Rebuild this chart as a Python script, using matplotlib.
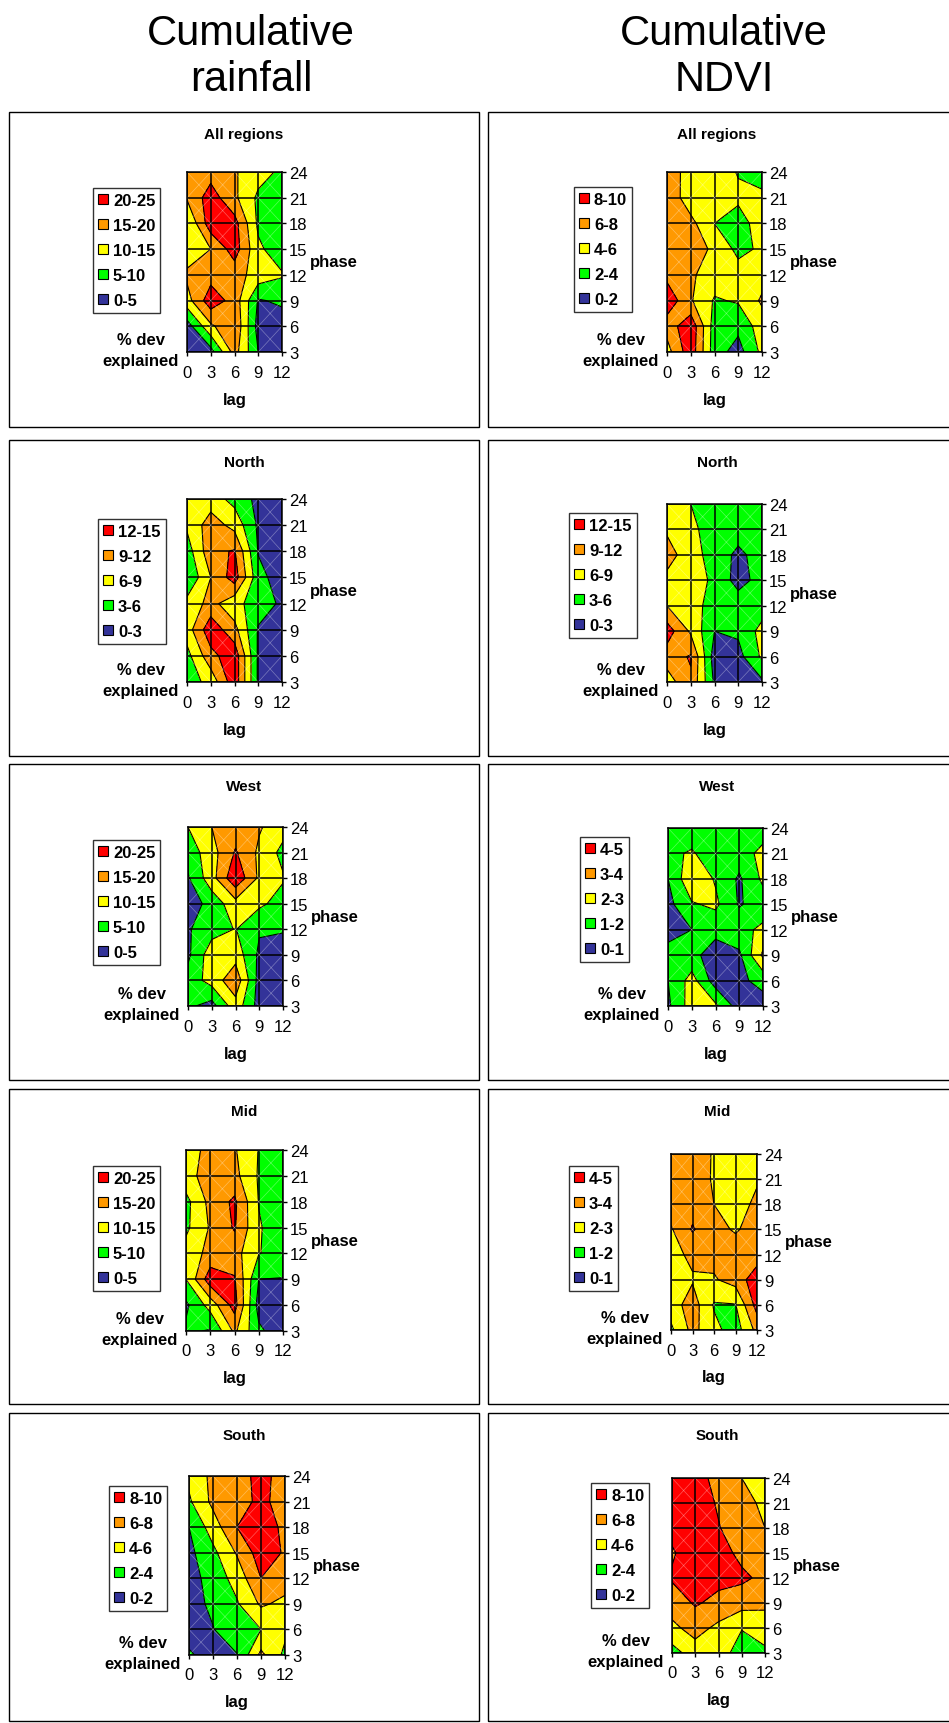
import numpy as np
import matplotlib.pyplot as plt
from matplotlib.patches import Patch, Rectangle

plt.rcParams['font.family'] = ['Liberation Sans', 'DejaVu Sans']

W, H = 949, 1724

lag = [0, 3, 6, 9, 12]
phase = [3, 6, 9, 12, 15, 18, 21, 24]
colours = ['#333399', '#00FF00', '#FFFF00', '#FF9900', '#FF0000']

# % deviance explained, rows = phase 3..24, columns = lag 0..12
rain_all = [[1, 3, 17, 5, 1],
            [2.5, 14, 19.5, 3, 2],
            [13, 23, 18, 4.5, 6],
            [16, 18, 17, 13, 10.5],
            [12, 15, 22.5, 11, 7],
            [9.8, 23, 22, 9, 5],
            [15.5, 22.5, 16, 9, 7],
            [16, 18, 15.5, 12, 9]]
ndvi_all = [[5.2, 9.3, 2.9, 1.2, 4.5],
            [6.8, 9.5, 3.0, 2.5, 5.0],
            [9.5, 6.2, 3.8, 4.2, 6.3],
            [7.4, 6.3, 5.0, 4.8, 5.2],
            [7.5, 7.3, 5.5, 3.5, 4.3],
            [7.5, 6.6, 4.0, 3.3, 4.8],
            [7.5, 4.8, 5.0, 4.3, 4.5],
            [7.3, 5.0, 4.8, 3.9, 3.0]]
rain_north = [[4.5, 7, 14, 2.5, 1],
              [5, 11, 14, 2.5, 1],
              [7.5, 14, 10, 2.7, 1],
              [7, 10, 7, 4.5, 2.5],
              [3.2, 9, 13.5, 4, 1.5],
              [4.5, 11, 12.3, 2.8, 1],
              [6.5, 10.5, 8, 2.5, 1],
              [7, 7.5, 5, 2.2, 1]]
ndvi_north = [[7.5, 11.5, 2.5, 1, 2.5],
              [10.5, 12.3, 1.5, 2.0, 6.5],
              [13.5, 8.5, 3.0, 3.5, 7],
              [9, 7, 5, 4.5, 4.5],
              [8, 8.5, 5, 2.0, 4.0],
              [10.5, 7, 5, 2.2, 4.5],
              [8.5, 6.5, 5, 4.5, 4.5],
              [7.5, 6, 5, 4.5, 4.5]]
rain_west = [[6, 3, 13, 3, 2],
             [7, 12, 18.5, 3, 2],
             [4, 13, 13, 4, 2],
             [4.5, 8, 10.2, 5.5, 5.5],
             [2, 7, 13, 11, 8],
             [4.5, 13, 24, 14, 10.5],
             [7, 13, 20.5, 14, 8.5],
             [10, 15, 17.5, 15.5, 12]]
ndvi_west = [[0.8, 2.5, 2.2, 0.5, 0.6],
             [1.0, 2.4, 0.5, 0.8, 1.3],
             [1.5, 1.3, 0.5, 0.8, 3.2],
             [0.5, 1.0, 1.3, 1.7, 2.2],
             [0.7, 1.9, 2.2, 0.9, 1.5],
             [1.0, 2.8, 1.9, 0.85, 2.2],
             [1.8, 2.1, 1.5, 1.5, 2.3],
             [1.5, 1.5, 1.5, 1.5, 1.5]]
rain_mid = [[6, 4.5, 16, 6, 2],
            [4, 12, 22, 3, 2],
            [10, 23, 20.5, 5, 4.8],
            [12, 16.5, 17, 10.2, 8],
            [9, 15.5, 20.5, 10.5, 7],
            [8.5, 16.5, 21, 9.8, 5.5],
            [13, 17.5, 16.5, 9.5, 8],
            [12, 17, 15.5, 9.8, 8]]
ndvi_mid = [[1.8, 3.3, 2.3, 1.5, 3.3],
            [2.5, 3.5, 1.9, 1.95, 4.4],
            [2.5, 2.9, 2.9, 3.4, 4.6],
            [2.7, 3.2, 3.3, 3.5, 3.5],
            [2.9, 4.1, 3.3, 2.9, 3.4],
            [3.5, 3.6, 3.0, 2.6, 3.2],
            [3.5, 3.5, 2.9, 2.5, 2.9],
            [3.5, 3.6, 2.9, 2.5, 2.5]]
rain_south = [[2.3, 1, 1.9, 6.5, 3.5],
              [1, 1.9, 3.6, 4.0, 4.5],
              [1, 2.5, 3.8, 6.3, 5.5],
              [1.2, 2.8, 4.8, 8.0, 7],
              [1.5, 3.5, 6.2, 9, 7.8],
              [2, 5, 8.0, 9.2, 7.5],
              [3.7, 6.5, 7.3, 8.4, 7.3],
              [4.5, 6.5, 7.2, 8.6, 7.2]]
ndvi_south = [[3.2, 5, 5, 3.0, 3.6],
              [5.5, 6.8, 5.5, 4.1, 5.0],
              [7, 8.2, 7.5, 6.8, 6.4],
              [8.2, 9.2, 8.5, 8.4, 7.5],
              [7.8, 9, 8.8, 7.5, 7],
              [8.5, 9, 8.1, 7, 6],
              [9, 9, 7.8, 6.8, 5.5],
              [9, 8.6, 7.5, 6, 5]]

levels_rain_all = [0, 5, 10, 15, 20, 25]
levels_ndvi_all = [0, 2, 4, 6, 8, 10]
levels_north = [0, 3, 6, 9, 12, 15]
levels_west_ndvi = [0, 1, 2, 3, 4, 5]


def px(x, y):
    return x / W, 1 - y / H


def draw_panel(box, title_x, title, z, levels, plot, leg):
    bx0, by0, bx1, by1 = box
    fig.patches.append(Rectangle(px(bx0, by1), (bx1 - bx0) / W, (by1 - by0) / H,
                                 transform=fig.transFigure, fill=False,
                                 edgecolor='black', linewidth=1.0))
    fig.text(*px(title_x, by0 + 22), title, ha='center', va='center',
             fontsize=11, fontweight='bold')

    x0, y0, x1, y1 = plot
    ax = fig.add_axes([x0 / W, 1 - y1 / H, (x1 - x0) / W, (y1 - y0) / H])
    X, Y = np.meshgrid(lag, phase)
    Z = np.array(z)
    ax.contourf(X, Y, Z, levels=levels, colors=colours)
    ax.contour(X, Y, Z, levels=levels[1:-1], colors='black', linewidths=0.8)
    # faint diagonals of the surface cells
    for i in range(len(lag) - 1):
        for j in range(len(phase) - 1):
            ax.plot([lag[i], lag[i + 1]], [phase[j], phase[j + 1]],
                    color='white', lw=0.5, alpha=0.35)
            ax.plot([lag[i], lag[i + 1]], [phase[j + 1], phase[j]],
                    color='white', lw=0.5, alpha=0.35)
    ax.set_xlim(0, 12)
    ax.set_ylim(3, 24)
    ax.set_xticks(lag)
    ax.set_yticks(phase)
    ax.grid(True, color='black', linewidth=1.1)
    ax.yaxis.tick_right()
    ax.tick_params(axis='both', labelsize=12, length=3, width=1, direction='out')
    ax.tick_params(axis='x', pad=6)
    ax.tick_params(axis='y', pad=2)
    for s in ax.spines.values():
        s.set_linewidth(1.1)

    fig.text(*px(x1 + 28, (y0 + y1) / 2), 'phase', ha='left', va='center',
             fontsize=12, fontweight='bold')
    fig.text(*px(x0 - 46, y1 - 2), '% dev\nexplained', ha='center', va='center',
             fontsize=12, fontweight='bold', linespacing=1.5)
    fig.text(*px((x0 + x1) / 2, y1 + 47), 'lag', ha='center', va='center',
             fontsize=12, fontweight='bold')

    handles = [Patch(facecolor=colours[k], edgecolor='black', linewidth=0.8)
               for k in range(len(colours) - 1, -1, -1)]
    labels = [f'{levels[k]:g}-{levels[k + 1]:g}'
              for k in range(len(levels) - 2, -1, -1)]
    lg = fig.legend(handles, labels, loc='upper left', bbox_to_anchor=px(*leg),
                    frameon=True, fancybox=False, edgecolor='black',
                    prop={'weight': 'bold', 'size': 12}, handlelength=0.6,
                    handleheight=0.6, handletextpad=0.3, labelspacing=0.6,
                    borderpad=0.3, borderaxespad=0)
    lg.get_frame().set_linewidth(1.0)


fig = plt.figure(figsize=(W / 100, H / 100), dpi=100)

fig.text(*px(251, 34), 'Cumulative', ha='center', va='center', fontsize=30)
fig.text(*px(251, 80), 'rainfall', ha='center', va='center', fontsize=30)
fig.text(*px(724, 34), 'Cumulative', ha='center', va='center', fontsize=30)
fig.text(*px(724, 80), 'NDVI', ha='center', va='center', fontsize=30)

rows = [(113, 428), (441, 757), (765, 1081), (1090, 1405), (1414, 1722)]
titles = ['All regions', 'North', 'West', 'Mid', 'South']

left_data = [(rain_all, levels_rain_all), (rain_north, levels_north),
             (rain_west, levels_rain_all), (rain_mid, levels_rain_all),
             (rain_south, levels_ndvi_all)]
right_data = [(ndvi_all, levels_ndvi_all), (ndvi_north, levels_north),
              (ndvi_west, levels_west_ndvi), (ndvi_mid, levels_west_ndvi),
              (ndvi_south, levels_ndvi_all)]

left_plots = [(187, 173, 282, 353), (187, 500, 282, 683), (188, 828, 283, 1007),
              (186, 1151, 283, 1332), (189, 1477, 285, 1656)]
right_plots = [(667, 173, 762, 353), (667, 505, 762, 683), (668, 829, 763, 1007),
               (671, 1155, 757, 1331), (672, 1479, 765, 1654)]
left_legs = [(93, 189), (98, 520), (93, 841), (93, 1167), (109, 1487)]
right_legs = [(574, 188), (569, 514), (580, 838), (569, 1167), (591, 1484)]

for r in range(5):
    t, b = rows[r]
    draw_panel((9, t, 479, b), 244, titles[r], left_data[r][0], left_data[r][1],
               left_plots[r], left_legs[r])
    draw_panel((488, t, 960, b), 717, titles[r], right_data[r][0], right_data[r][1],
               right_plots[r], right_legs[r])

fig.savefig('out.png', dpi=100)
